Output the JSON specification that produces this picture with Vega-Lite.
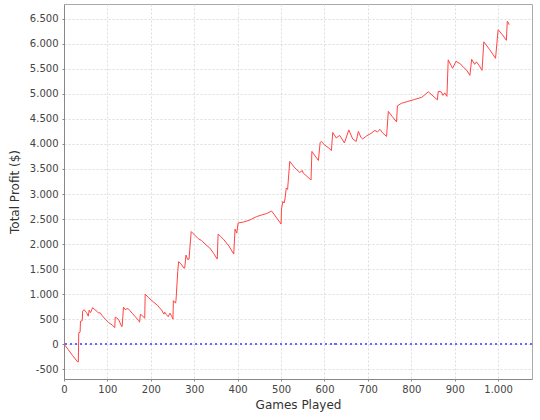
{
  "$schema": "https://vega.github.io/schema/vega-lite/v6.json",
  "width": 468,
  "height": 375,
  "autosize": {"type": "none"},
  "padding": {"left": 64, "top": 4, "right": 8, "bottom": 41},
  "background": "white",
  "config": {
    "locale": {"number": {"decimal": ",", "thousands": ".", "grouping": [3], "currency": ["", ""], "minus": "-"}},
    "view": {"stroke": "#aaaaaa", "strokeWidth": 1},
    "axis": {
      "labelFont": "DejaVu Sans",
      "labelFontSize": 10,
      "labelColor": "#444444",
      "labelOverlap": false,
      "titleFont": "DejaVu Sans",
      "titleFontSize": 12,
      "titleFontWeight": "normal",
      "titleColor": "#333333",
      "domainColor": "#888888",
      "tickColor": "#888888",
      "tickSize": 2,
      "grid": true,
      "gridColor": "#dddddd",
      "gridDash": [2, 2]
    }
  },
  "data": {"values": [
    {"g":0,"v":0},{"g":10,"v":-110},{"g":20,"v":-230},{"g":31,"v":-350},{"g":33,"v":-355},{"g":34,"v":230},{"g":37,"v":240},{"g":38,"v":460},{"g":42,"v":470},{"g":43,"v":660},{"g":46,"v":690},{"g":52,"v":630},{"g":56,"v":560},{"g":58,"v":680},{"g":61,"v":630},{"g":66,"v":730},{"g":71,"v":690},{"g":77,"v":650},{"g":80,"v":620},{"g":83,"v":630},{"g":88,"v":570},{"g":95,"v":500},{"g":103,"v":430},{"g":111,"v":385},{"g":117,"v":330},{"g":118,"v":540},{"g":122,"v":520},{"g":126,"v":490},{"g":133,"v":350},{"g":134,"v":360},{"g":137,"v":740},{"g":141,"v":690},{"g":145,"v":710},{"g":149,"v":700},{"g":152,"v":670},{"g":157,"v":620},{"g":164,"v":550},{"g":172,"v":470},{"g":174,"v":440},{"g":176,"v":600},{"g":180,"v":570},{"g":186,"v":520},{"g":187,"v":1000},{"g":195,"v":930},{"g":205,"v":850},{"g":215,"v":780},{"g":225,"v":680},{"g":230,"v":600},{"g":232,"v":640},{"g":236,"v":590},{"g":240,"v":550},{"g":244,"v":620},{"g":248,"v":560},{"g":251,"v":500},{"g":252,"v":870},{"g":255,"v":840},{"g":257,"v":820},{"g":258,"v":880},{"g":262,"v":1450},{"g":264,"v":1650},{"g":270,"v":1600},{"g":276,"v":1520},{"g":278,"v":1520},{"g":281,"v":1780},{"g":285,"v":1690},{"g":288,"v":1700},{"g":293,"v":2250},{"g":301,"v":2180},{"g":309,"v":2110},{"g":317,"v":2070},{"g":325,"v":2000},{"g":336,"v":1920},{"g":345,"v":1810},{"g":353,"v":1700},{"g":355,"v":2200},{"g":361,"v":2150},{"g":367,"v":2100},{"g":380,"v":1960},{"g":391,"v":1800},{"g":394,"v":2300},{"g":398,"v":2220},{"g":401,"v":2420},{"g":413,"v":2440},{"g":428,"v":2480},{"g":444,"v":2550},{"g":455,"v":2580},{"g":467,"v":2610},{"g":478,"v":2660},{"g":480,"v":2640},{"g":490,"v":2520},{"g":500,"v":2400},{"g":501,"v":2700},{"g":504,"v":2850},{"g":507,"v":2820},{"g":509,"v":2900},{"g":512,"v":3120},{"g":515,"v":3090},{"g":520,"v":3650},{"g":532,"v":3520},{"g":543,"v":3430},{"g":549,"v":3470},{"g":551,"v":3420},{"g":560,"v":3350},{"g":569,"v":3280},{"g":571,"v":3850},{"g":580,"v":3740},{"g":586,"v":3670},{"g":590,"v":4030},{"g":593,"v":4050},{"g":600,"v":3980},{"g":608,"v":3930},{"g":616,"v":3870},{"g":619,"v":4230},{"g":627,"v":4120},{"g":635,"v":4170},{"g":646,"v":4020},{"g":656,"v":4280},{"g":665,"v":4100},{"g":673,"v":4050},{"g":678,"v":4250},{"g":684,"v":4130},{"g":688,"v":4100},{"g":697,"v":4160},{"g":707,"v":4210},{"g":716,"v":4270},{"g":722,"v":4240},{"g":728,"v":4290},{"g":734,"v":4220},{"g":743,"v":4150},{"g":747,"v":4650},{"g":756,"v":4550},{"g":766,"v":4440},{"g":768,"v":4760},{"g":777,"v":4810},{"g":792,"v":4850},{"g":808,"v":4890},{"g":824,"v":4930},{"g":839,"v":5040},{"g":842,"v":5020},{"g":860,"v":4880},{"g":862,"v":5050},{"g":869,"v":5040},{"g":873,"v":4970},{"g":877,"v":5020},{"g":882,"v":4950},{"g":885,"v":5680},{"g":895,"v":5510},{"g":903,"v":5650},{"g":913,"v":5600},{"g":920,"v":5530},{"g":927,"v":5480},{"g":935,"v":5370},{"g":939,"v":5690},{"g":946,"v":5590},{"g":950,"v":5640},{"g":956,"v":5570},{"g":963,"v":5470},{"g":967,"v":6040},{"g":980,"v":5890},{"g":994,"v":5710},{"g":1000,"v":6280},{"g":1010,"v":6180},{"g":1019,"v":6070},{"g":1021,"v":6450},{"g":1024,"v":6420},{"g":1025,"v":6380}
  ]},
  "encoding": {
    "y": {
      "field": "v", "type": "quantitative",
      "scale": {"domain": [-695, 6795], "nice": false, "zero": false},
      "axis": {"title": "Total Profit ($)", "grid": true, "values": [-500,0,500,1000,1500,2000,2500,3000,3500,4000,4500,5000,5500,6000,6500], "format": ",d", "labelPadding": 4, "titlePadding": 8}
    }
  },
  "layer": [
    {
      "mark": {"type": "line", "color": "#ff4444", "strokeWidth": 1, "clip": true},
      "encoding": {
        "x": {
          "field": "g", "type": "quantitative",
          "scale": {"domain": [0, 1078], "nice": false, "zero": false},
          "axis": {"title": "Games Played", "values": [0,100,200,300,400,500,600,700,800,900,1000], "format": ",d", "labelPadding": 3, "titlePadding": 5, "labelFlush": false}
        }
      }
    },
    {
      "mark": {"type": "rule", "color": "#6a6aff", "strokeWidth": 1, "strokeDash": [2, 3], "opacity": 0.85},
      "encoding": {"y": {"datum": 0, "type": "quantitative"}}
    }
  ]
}
